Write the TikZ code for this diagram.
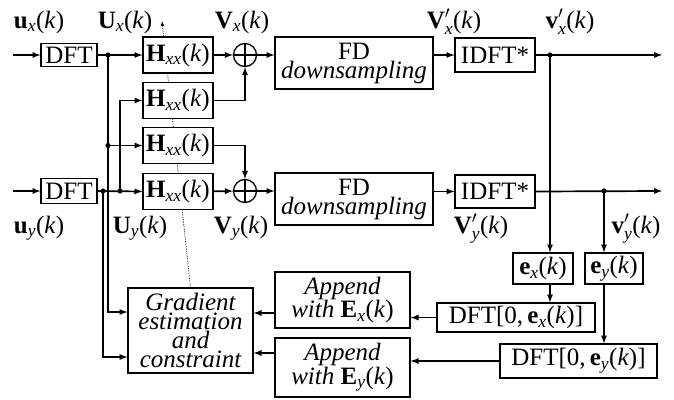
\documentclass[tikz,border=0pt]{standalone}
\usepackage{amsmath}
\usepackage{fontspec}
\setmainfont{Liberation Serif}
\usepackage{tikz}
\usetikzlibrary{arrows, positioning, backgrounds}
\tikzstyle{block} = [rectangle, draw=black, line width=1.2pt, fill=white, inner sep=0pt, text centered, align=center]
\tikzstyle{hblock} = [block, minimum width=70pt, minimum height=36pt]
\tikzstyle{adder} = [circle, draw=black, line width=1.3pt, fill=white, minimum size=23pt, inner sep=0pt,
  path picture={\draw[line width=1.3pt] (path picture bounding box.north) -- (path picture bounding box.south)
    (path picture bounding box.west) -- (path picture bounding box.east);}]
\tikzstyle{arrow} = [line width=1.7pt,->,>=latex]
\tikzstyle{line} = [line width=1.7pt]
\tikzstyle{sig} = [anchor=base, inner sep=0pt]
\newcommand{\sg}[2]{\textbf{#1}$_{\textit{#2}}$(\textit{k})}
\newcommand{\sgp}[2]{\textbf{#1}$'_{\textit{#2}}$(\textit{k})}
\newcommand{\hxx}{\textbf{H}$_{\textit{xx}}$(\textit{k})}
\begin{document}
\begin{tikzpicture}[x=1pt, y=-1pt, font=\fontsize{25}{19}\selectfont]
\useasboundingbox (0,0) rectangle (674,399);

% front end
\node (dftx) [block, minimum width=56pt, minimum height=23pt] at (69,55) {DFT};
\node (dfty) [block, minimum width=56pt, minimum height=25pt] at (69,191) {DFT};
\node (h1) [hblock] at (178,55) {\hxx};
\node (h2) [hblock] at (178,100.5) {\hxx};
\node (h3) [hblock] at (178,145.5) {\hxx};
\node (h4) [hblock] at (178,191.5) {\hxx};
\node (sumx) [adder] at (245,55) {};
\node (sumy) [adder] at (245,191) {};
\node (fdx) [block, minimum width=158pt, minimum height=52pt] at (354,63) {FD\\\textit{downsampling}};
\node (fdy) [block, minimum width=158pt, minimum height=52pt] at (354,199) {FD\\\textit{downsampling}};
\node (idftx) [block, minimum width=80pt, minimum height=34pt] at (495,55) {IDFT*};
\node (idfty) [block, minimum width=80pt, minimum height=33pt] at (495,191.5) {IDFT*};

% error path
\node (ex) [block, minimum width=60pt, minimum height=31pt] at (543,268.5) {\sg{e}{x}};
\node (ey) [block, minimum width=58pt, minimum height=31pt] at (614,268.5) {\sg{e}{y}};
\node (dftex) [block, minimum width=158pt, minimum height=29pt] at (516,317.5) {DFT[0,\,\sg{e}{x}]};
\node (dftey) [block, minimum width=157pt, minimum height=34pt] at (578.5,361) {DFT[0,\,\sg{e}{y}]};
\node (apx) [block, minimum width=135pt, minimum height=56pt] at (342.5,300) {\textit{Append}\\\textit{with} \sg{E}{x}};
\node (apy) [block, minimum width=135pt, minimum height=59pt] at (342.5,367.5) {\textit{Append}\\\textit{with} \sg{E}{y}};
\node (grad) [block, minimum width=125pt, minimum height=85pt, font=\fontsize{25}{19}\selectfont\itshape] at (190.5,330.5) {Gradient\\estimation\\and\\constraint};

% signal labels
\node (lux) [sig] at (39,28) {\sg{u}{x}};
\node (lUx) [sig] at (125,28) {\sg{U}{x}};
\node (lVx) [sig] at (242,28) {\sg{V}{x}};
\node (lVpx) [sig] at (454,28) {\sgp{V}{x}};
\node (lvpx) [sig] at (570,28) {\sgp{v}{x}};
\node (luy) [sig] at (39,233) {\sg{u}{y}};
\node (lUy) [sig] at (140,233) {\sg{U}{y}};
\node (lVy) [sig] at (241,233) {\sg{V}{y}};
\node (lVpy) [sig] at (481,233) {\sgp{V}{y}};
\node (lvpy) [sig] at (636,233) {\sgp{v}{y}};

% branch points and free ends
\coordinate (inx) at (13,55);
\coordinate (iny) at (13,191);
\coordinate (jx) at (108,55);
\coordinate (jx3) at (108,145.5);
\coordinate (jy1) at (103,191);
\coordinate (jy2) at (120,191);
\coordinate (jox) at (550,55);
\coordinate (joy) at (604,191);
\coordinate (outx) at (662,55);
\coordinate (outy) at (662,191);
\coordinate (dtip) at (162,21);
\coordinate (gax) at ([yshift=-13pt]apx.west);
\coordinate (gay) at ([yshift=14.5pt]apy.west);

% filter link
\begin{scope}[on background layer]
\draw [densely dotted, line width=0.7pt, ->, >=latex] (grad.north) -- (dtip);
\end{scope}

% x path
\draw [arrow] (inx) -- (dftx);
\draw [line] (dftx.east) -- (jx);
\draw [arrow] (jx) -- (h1);
\draw [arrow] (jx) |- ([yshift=18.5pt]grad.west);
\draw [arrow] (jx3) -- (h3);
\draw [arrow] (h1) -- (sumx);
\draw [arrow] (h2.east) -| (sumx.south);
\draw [arrow] (sumx.east) -- (sumx.east -| fdx.west);
\draw [arrow] (fdx.east |- idftx) -- (idftx.west);
\draw [arrow] (idftx.east) -- (outx);

% y path
\draw [arrow] (iny) -- (dfty);
\draw [arrow] (dfty.east) -- (h4.west);
\draw [arrow] (jy1) |- ([yshift=-26.5pt]grad.west);
\draw [arrow] (jy2) |- (h2.west);
\draw [arrow] (h3.east) -| (sumy.north);
\draw [arrow] (h4) -- (sumy);
\draw [arrow] (sumy.east) -- (sumy.east -| fdy.west);
\draw [arrow] (fdy.east |- idfty) -- (idfty.west);
\draw [arrow] (idfty.east) -- (outy);

% error feedback
\draw [arrow] (jox) -- (jox |- ex.north);
\draw [arrow] (joy) -- (joy |- ey.north);
\draw [arrow] (jox |- ex.south) -- (jox |- dftex.north);
\draw [arrow] (joy |- ey.south) -- (joy |- dftey.north);
\draw [arrow] (dftex.west) -- (dftex.west -| apx.east);
\draw [arrow] (dftey.west) -- (dftey.west -| apy.east);
\draw [arrow] (gax) -- (gax -| grad.east);
\draw [arrow] (gay) -- (gay -| grad.east);

\foreach \j in {jx, jx3, jy1, jy2, jox, joy}
  \fill (\j) circle (2.6pt);
\end{tikzpicture}
\end{document}
